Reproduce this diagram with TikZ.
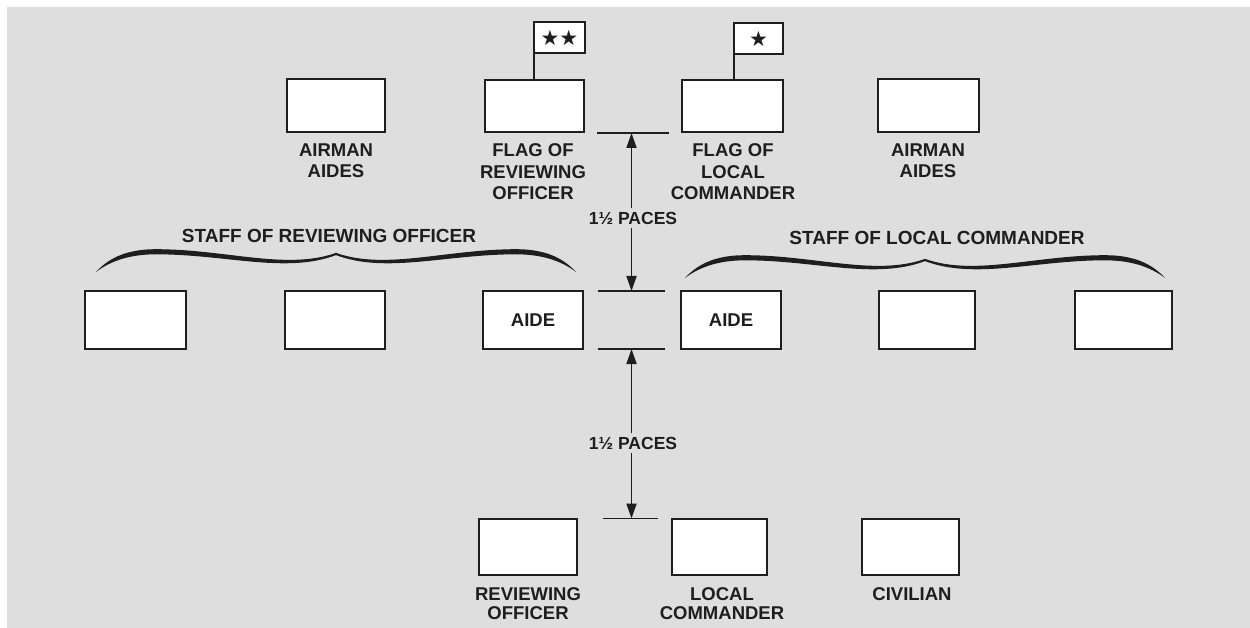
\documentclass[tikz,border=0pt]{standalone}
\usepackage{fontspec}
\setmainfont{Liberation Sans}
\newfontfamily\symfont{DejaVu Sans}
\usetikzlibrary{arrows.meta}
\definecolor{ink}{RGB}{30,30,30}
\definecolor{bgc}{RGB}{222,222,222}
\tikzset{
  bx/.style={draw=ink, fill=white, line width=2.3pt, inner sep=0pt, font=\fontsize{18.5}{21}\selectfont\bfseries, text=ink},
  lbl/.style={inner sep=0pt, align=center, anchor=north, text=ink, font=\fontsize{18.5}{21.5}\selectfont\bfseries},
  lblb/.style={inner sep=0pt, align=center, anchor=north, text=ink, font=\fontsize{18.5}{19}\selectfont\bfseries},
  stafflbl/.style={inner sep=0pt, text=ink, font=\fontsize{19}{21}\selectfont\bfseries},
  pace/.style={inner sep=3pt, text height=13pt, text depth=0pt, text=ink, font=\fontsize{17.5}{20}\selectfont\bfseries},
  dimline/.style={draw=ink, line width=1.5pt},
  arr/.style={draw=ink, line width=1.8pt, -{Triangle[length=15pt,width=10pt]}},
  flagbox/.style={draw=ink, fill=white, line width=2pt, inner sep=0pt, minimum width=51pt, minimum height=31pt, text=ink, font=\symfont\fontsize{21}{21}\selectfont},
  pole/.style={draw=ink, line width=2pt},
  bracehalf/.pic={
    \fill[ink] (-240,18) .. controls (-225,1.5) and (-205,-4.8) .. (-180,-4.8)
      .. controls (-110,-4.8) and (-50,16.5) .. (0,-1.1)
      -- (0,1.1) .. controls (-50,20) and (-110,0.3) .. (-180,0.3)
      .. controls (-205,0.3) and (-225,6.5) .. (-240,18) -- cycle;
  }
}
\begin{document}
\begin{tikzpicture}[x=1pt,y=-1pt]
\useasboundingbox (0,0) rectangle (1250,628);
\fill[white] (0,0) rectangle (1250,628);
\fill[bgc] (7,7) rectangle (1250,628);

% top row
\node[bx, minimum width=98pt, minimum height=53pt] (aL) at (336,105.5) {};
\node[bx, minimum width=99pt, minimum height=52pt] (fR) at (534.5,106) {};
\node[bx, minimum width=101pt, minimum height=52pt] (fL) at (732.5,106) {};
\node[bx, minimum width=101pt, minimum height=53pt] (aR) at (928.5,105.5) {};

% flags
\node[flagbox] (flagR) at (559.5,38) {★★};
\node[flagbox, minimum width=49pt] (flagL) at (758.5,38.5) {★};
\draw[pole] (flagR.south west) ++(1pt,0) coordinate (pr) -- (pr |- fR.north);
\draw[pole] (flagL.south west) ++(0.5pt,0) coordinate (pl) -- (pl |- fL.north);

\node[lbl] (laL) at (336,143.5) {AIRMAN\\AIDES};
\node[lbl] (lfR) at (533,143.5) {FLAG OF\\REVIEWING\\OFFICER};
\node[lbl] (lfL) at (733,143.5) {FLAG OF\\LOCAL\\COMMANDER};
\node[lbl] (laR) at (928,143.5) {AIRMAN\\AIDES};

% staff labels and braces
\node[stafflbl] (stR) at (329,236) {STAFF OF REVIEWING OFFICER};
\node[stafflbl] (stL) at (937,238) {STAFF OF LOCAL COMMANDER};
\pic at (336,254) {bracehalf};
\pic[xscale=-1] at (336,254) {bracehalf};
\pic at (925,260) {bracehalf};
\pic[xscale=-1] at (925,260) {bracehalf};

% middle row
\node[bx, minimum width=101pt, minimum height=58pt] (s1) at (135.5,320) {};
\node[bx, minimum width=100pt, minimum height=58pt] (s2) at (335,320) {};
\node[bx, minimum width=100pt, minimum height=58pt] (aideL) at (533,320) {AIDE};
\node[bx, minimum width=100pt, minimum height=58pt] (aideR) at (731,320) {AIDE};
\node[bx, minimum width=96pt, minimum height=58pt] (s5) at (927,320) {};
\node[bx, minimum width=97pt, minimum height=58pt] (s6) at (1123.5,320) {};

% bottom row
\node[bx, minimum width=98pt, minimum height=56pt] (ro) at (528,547) {};
\node[bx, minimum width=95pt, minimum height=56pt] (lc) at (719.5,547) {};
\node[bx, minimum width=97pt, minimum height=56pt] (civ) at (910.5,547) {};
\node[lblb] (lro) at (528,587) {REVIEWING\\OFFICER};
\node[lblb] (llc) at (722,587) {LOCAL\\COMMANDER};
\node[lblb] (lciv) at (912,587) {CIVILIAN};

% dimension lines
\coordinate (d1a) at (597,133); \coordinate (d1b) at (669,133);
\coordinate (d2a) at (598,291); \coordinate (d2b) at (665,291);
\coordinate (d3a) at (598,349); \coordinate (d3b) at (665,349);
\coordinate (d4a) at (603,518.5); \coordinate (d4b) at (658,518.5);
\draw[dimline] (d1a) -- (d1b);
\draw[dimline] (d2a) -- (d2b);
\draw[dimline] (d3a) -- (d3b);
\draw[dimline] (d4a) -- (d4b);
\coordinate (t1) at (631.5,133); \coordinate (t2) at (631.5,291);
\coordinate (t3) at (631.5,349); \coordinate (t4) at (631.5,518.5);

\node[pace] (p1) at (633,218) {1½ PACES};
\node[pace] (p2) at (633,443) {1½ PACES};
\draw[arr] (p1.north -| t1) -- (t1);
\draw[arr] (p1.south -| t1) -- (t2);
\draw[arr] (p2.north -| t3) -- (t3);
\draw[arr] (p2.south -| t3) -- (t4);
\end{tikzpicture}
\end{document}
